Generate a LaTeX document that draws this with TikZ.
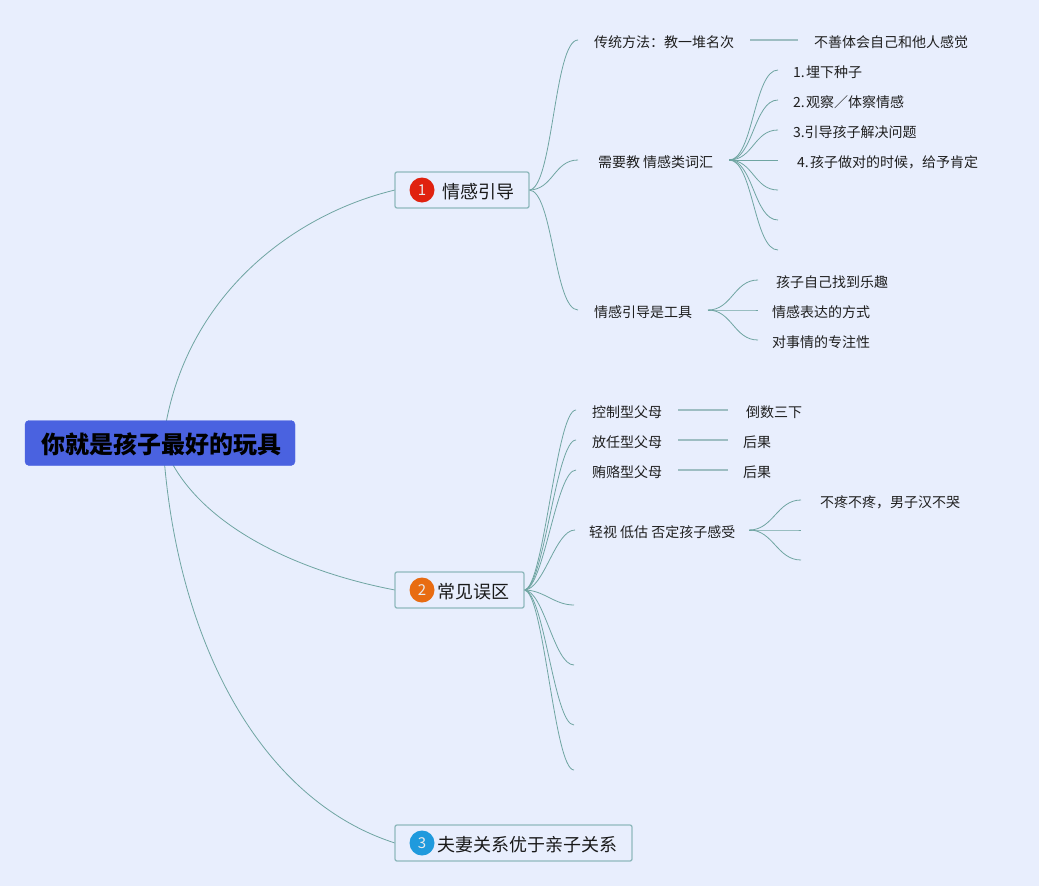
\documentclass[tikz,border=0pt]{standalone}
\usepackage{fontspec}
\setmainfont{Noto Sans CJK SC}
\usetikzlibrary{backgrounds}
\definecolor{bgc}{HTML}{E8EEFD}
\definecolor{rootc}{HTML}{4A62E0}
\definecolor{edgec}{HTML}{6FA5A2}
\definecolor{edgel}{HTML}{9DBDC2}
\definecolor{boxc}{HTML}{8FB9BD}
\definecolor{redc}{HTML}{E0220F}
\definecolor{orc}{HTML}{E86C12}
\definecolor{bluec}{HTML}{1F9ADD}
\tikzset{
  rootbox/.style={fill=rootc,draw=rootc,rounded corners=4pt,minimum height=45pt,minimum width=270pt,inner sep=0pt,font=\fontsize{24}{28}\selectfont\bfseries,text=black},
  branchbox/.style={draw=boxc,fill=bgc,line width=1.3pt,rounded corners=2pt,minimum height=36pt,inner sep=0pt,outer sep=0pt,anchor=west,font=\fontsize{18}{22}\selectfont,text=black!90},
  badge/.style={circle,minimum size=25pt,inner sep=0pt,text=white!92!black,font=\fontsize{15}{18}\selectfont},
  leaf/.style={inner xsep=16pt,inner ysep=2pt,outer sep=0pt,anchor=west,yshift=-1pt,font=\fontsize{14}{17}\selectfont,text=black!88},
  conn/.style={draw=edgec,line width=0.8pt},
  bar/.style={draw=edgel,line width=1.1pt},
  fan/.style={out=0,in=180,out distance=#1,in distance=#1},
  fan/.default=24pt
}
\newcommand{\btext}[3]{\raisebox{0pt}[\dimexpr\height+3pt\relax]{\hbox{\hspace{#1}#2\hspace{#3}}}}
\begin{document}
\begin{tikzpicture}[x=1pt,y=-1pt]
\useasboundingbox (0,0) rectangle (1039,886);
% root
\node[rootbox] (root) at (160,443) {\btext{2pt}{你就是孩子最好的玩具}{0pt}};
% branches
\node[branchbox,minimum width=134pt] (b1) at (395,190) {\btext{47pt}{情感引导}{15pt}};
\node[branchbox,minimum width=129pt] (b2) at (395,590) {\btext{42pt}{常见误区}{15pt}};
\node[branchbox,minimum width=237pt] (b3) at (395,843) {\btext{42pt}{夫妻关系优于亲子关系}{15pt}};
\node[badge,fill=redc] (n1) at (422,190) {1};
\node[badge,fill=orc] (n2) at (422,590) {2};
\node[badge,fill=bluec] (n3) at (422,843) {3};
% branch 1
\node[leaf] (a1) at (578,41) {传统方法：教一堆名次};
\node[leaf] (a2) at (798,41) {不善体会自己和他人感觉};
\node[leaf,inner xsep=16pt] (c) at (582,161) {需要教 情感类词汇};
\coordinate (cin) at (578,160);
\node[leaf,inner xsep=15pt] (c1) at (778,71) {1.\hspace{1.5pt}埋下种子};
\node[leaf,inner xsep=15pt] (c2) at (778,101) {2.\hspace{1.5pt}观察／体察情感};
\node[leaf,inner xsep=15pt] (c3) at (778,131) {3.引导孩子解决问题};
\node[leaf,inner xsep=19pt] (c4) at (778,161) {4.\hspace{1.5pt}孩子做对的时候，给予肯定};
\coordinate (c5) at (778,190);
\coordinate (c6) at (778,220);
\coordinate (c7) at (778,250);
\node[leaf] (d) at (578,311) {情感引导是工具};
\node[leaf,inner xsep=18pt] (d1) at (758,281) {孩子自己找到乐趣};
\node[leaf,inner xsep=14pt] (d2) at (758,311) {情感表达的方式};
\node[leaf,inner xsep=14pt] (d3) at (758,341) {对事情的专注性};
% branch 2
\node[leaf] (e1) at (576,411) {控制型父母};
\node[leaf,inner xsep=18pt] (e1r) at (728,411) {倒数三下};
\node[leaf] (e2) at (576,441) {放任型父母};
\node[leaf,inner xsep=15pt] (e2r) at (728,441) {后果};
\node[leaf] (e3) at (576,471) {贿赂型父母};
\node[leaf,inner xsep=15pt] (e3r) at (728,471) {后果};
\node[leaf,inner xsep=14pt] (f) at (575,531) {轻视 低估 否定孩子感受};
\node[leaf,inner xsep=19pt] (f1) at (801,501) {不疼不疼，男子汉不哭};
\coordinate (f2) at (801,530);
\coordinate (f3) at (801,560);
\coordinate (g1) at (574,605);
\coordinate (g2) at (574,665);
\coordinate (g3) at (574,725);
\coordinate (g4) at (574,770);
\begin{pgfonlayer}{background}
\fill[bgc] (0,0) rectangle (1039,886);
% root connectors
\draw[conn] ([xshift=3pt]root.center) .. controls (180,300) and (290,215) .. (b1.west);
\draw[conn] ([xshift=3pt]root.center) .. controls (190,520) and (290,570) .. (b2.west);
\draw[conn] ([xshift=3pt]root.center) .. controls (175,640) and (260,800) .. (b3.west);
% branch 1 connectors
\draw[conn] (b1.east) to[fan] ([yshift=2pt]a1.west);
\draw[conn] (b1.east) to[fan] (cin);
\draw[conn] (b1.east) to[fan] ([yshift=2pt]d.west);
\draw[bar] ([yshift=2pt]a1.east) -- ([yshift=2pt]a2.west);
\foreach \t in {c1,c2,c3,c4}{\draw[conn] ([yshift=2pt]c.east) to[fan] ([yshift=2pt]\t.west);}
\foreach \t in {c5,c6,c7}{\draw[conn] ([yshift=2pt]c.east) to[fan] (\t);}
\foreach \t in {d1,d2,d3}{\draw[conn] ([yshift=2pt]d.east) to[fan] ([yshift=2pt]\t.west);}
% branch 2 connectors
\foreach \t in {e1,e2,e3,f}{\draw[conn] (b2.east) to[fan=20pt] ([yshift=2pt]\t.west);}
\foreach \t in {g1,g2,g3,g4}{\draw[conn] (b2.east) to[fan=20pt] (\t);}
\draw[bar] ([yshift=2pt]e1.east) -- ([yshift=2pt]e1r.west);
\draw[bar] ([yshift=2pt]e2.east) -- ([yshift=2pt]e2r.west);
\draw[bar] ([yshift=2pt]e3.east) -- ([yshift=2pt]e3r.west);
\draw[conn] ([yshift=2pt]f.east) to[fan] ([yshift=2pt]f1.west);
\draw[conn] ([yshift=2pt]f.east) to[fan] (f2);
\draw[conn] ([yshift=2pt]f.east) to[fan] (f3);
\end{pgfonlayer}
\end{tikzpicture}
\end{document}
